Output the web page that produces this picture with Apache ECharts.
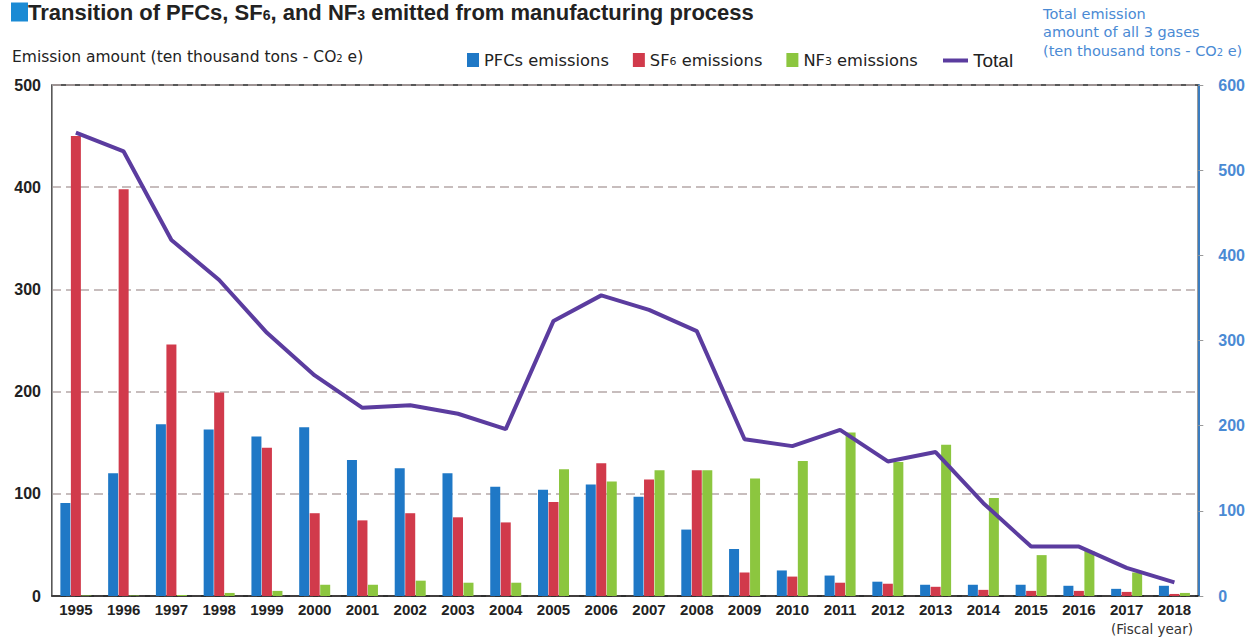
<!DOCTYPE html>
<html>
<head>
<meta charset="utf-8">
<script src="https://cdn.jsdelivr.net/npm/echarts@6/dist/echarts.min.js"></script>
<style>
html,body{margin:0;padding:0;background:#fff;}
#chart{width:1248px;height:637px;}
</style>
</head>
<body>
<div id="chart"></div>
<script>
const years = ['1995','1996','1997','1998','1999','2000','2001','2002','2003','2004','2005','2006','2007','2008','2009','2010','2011','2012','2013','2014','2015','2016','2017','2018'];
const pfcs = [91,120,168,163,156,165,133,125,120,107,104,109,97,65,46,25,20,14,11,11,11,10,7,10];
const sf6  = [450,398,246,199,145,81,74,81,77,72,92,130,114,123,23,19,13,12,9,6,5,5,4,2];
const nf3  = [0.5,0.5,1,3,5,11,11,15,13,13,124,112,123,123,115,132,160,131,148,96,40,44,23,3];
const total = [544,522,418,371,309,259,221,224,214,196,323,353,336,311,184,176,195,158,169,109,58,58,33,16];
const leftTicks = [0,100,200,300,400,500];
const rightTicks = [0,100,200,300,400,500,600];

const BLUE = '#1f78c6', RED = '#d13a4b', GREEN = '#8cc63f', PURPLE = '#5b3c9f', AXISBLUE = '#4a8ad4';
const font = 'Liberation Sans, Arial, sans-serif';
const wide = 'DejaVu Sans, sans-serif';

const chart = echarts.init(document.getElementById('chart'), null, {renderer: 'svg'});
const legendRich = {
  a: {fontSize: 16.3, color: '#222', fontFamily: wide},
  s: {fontSize: 11, color: '#222', fontFamily: wide, padding: [3, 0, 0, 0]},
  b: {fontSize: 19, color: '#222', fontFamily: font}
};
const legendFmt = function (n) {
  if (n === 'SF6 emissions') return '{a|SF}{s|6}{a| emissions}';
  if (n === 'NF3 emissions') return '{a|NF}{s|3}{a| emissions}';
  if (n === 'Total') return '{b|Total}';
  return '{a|' + n + '}';
};
chart.setOption({
  animation: false,
  textStyle: {fontFamily: font},
  title: {
    left: 6, top: -4,
    text: '{sq|}{t|Transition of PFCs, SF}{s|6}{t|, and NF}{s|3}{t| emitted from manufacturing process}',
    textStyle: {
      rich: {
        sq: {width: 17, height: 19, backgroundColor: '#1a8ad4', padding: 0},
        t: {fontSize: 22, fontWeight: 'bold', color: '#222', fontFamily: font},
        s: {fontSize: 14, fontWeight: 'bold', color: '#222', fontFamily: font, padding: [5, 0, 0, 0]}
      }
    }
  },
  legend: [{
    data: ['PFCs emissions', 'SF6 emissions', 'NF3 emissions'],
    left: 462, top: 47,
    itemWidth: 12, itemHeight: 14, itemGap: 24,
    icon: 'rect',
    formatter: legendFmt,
    textStyle: {rich: legendRich}
  }, {
    data: ['Total'],
    left: 938, top: 46,
    itemWidth: 25, itemHeight: 4,
    icon: 'rect',
    formatter: legendFmt,
    textStyle: {rich: legendRich}
  }],
  graphic: [
    {type: 'text', left: 12, top: 49, style: {
      text: '{a|Emission amount (ten thousand tons - CO}{s|2}{a| e)}',
      rich: {a: {fontSize: 15.5, fill: '#222', fontFamily: wide}, s: {fontSize: 10, fill: '#222', fontFamily: wide, padding: [3,0,0,0]}}
    }},
    {type: 'text', left: 1043, top: 6, style: {
      text: '{a|Total emission}\n{a|amount of all 3 gases}\n{a|(ten thousand tons - CO}{s|2}{a| e)}',
      rich: {a: {fontSize: 14.5, fill: AXISBLUE, fontFamily: wide, lineHeight: 18.5}, s: {fontSize: 10, fill: AXISBLUE, fontFamily: wide, lineHeight: 18.5, padding: [3,0,0,0]}}
    }},
    {type: 'text', left: 1111, top: 622, style: {text: '(Fiscal year)', fontSize: 13.5, fill: '#333', fontFamily: wide}}
  ],
  grid: {left: 52, right: 49, top: 85, bottom: 41, show: true, borderColor: '#222', borderWidth: 1.5, backgroundColor: 'transparent'},
  xAxis: {
    type: 'category', data: years,
    axisLine: {lineStyle: {color: '#222', width: 1.5}},
    axisTick: {show: false},
    axisLabel: {fontSize: 15, fontWeight: 'bold', color: '#222', margin: 6, interval: 0}
  },
  yAxis: [{
    type: 'value', min: 0, max: 500, interval: 100,
    axisLine: {show: true, lineStyle: {color: '#999', width: 1}},
    axisTick: {show: false},
    axisLabel: {fontSize: 16, fontWeight: 'bold', color: '#222', margin: 11,
      formatter: function (v) { return leftTicks.indexOf(v) >= 0 ? String(v) : ''; }},
    splitLine: {show: true, lineStyle: {color: '#b5a8a8', type: [9, 5], width: 1.5}}
  }, {
    type: 'value', min: 0, max: 600, interval: 100, position: 'right',
    axisLine: {show: true, lineStyle: {color: '#3a7cc0', width: 2}},
    axisTick: {show: true, length: 5, lineStyle: {color: '#999'}},
    axisLabel: {fontSize: 16, fontWeight: 'bold', color: AXISBLUE, margin: 20,
      formatter: function (v) { return rightTicks.indexOf(v) >= 0 ? String(v) : ''; }},
    splitLine: {show: false}
  }],
  series: [
    {name: 'PFCs emissions', type: 'bar', data: pfcs, barWidth: 10, barGap: '5%', itemStyle: {color: BLUE}},
    {name: 'SF6 emissions', type: 'bar', data: sf6, barWidth: 10, barGap: '5%', itemStyle: {color: RED}},
    {name: 'NF3 emissions', type: 'bar', data: nf3, barWidth: 10, barGap: '5%', itemStyle: {color: GREEN}},
    {name: 'Total', type: 'line', yAxisIndex: 1, data: total, symbol: 'none', lineStyle: {color: PURPLE, width: 4}, itemStyle: {color: PURPLE}, z: 5}
  ]
});
</script>
</body>
</html>
